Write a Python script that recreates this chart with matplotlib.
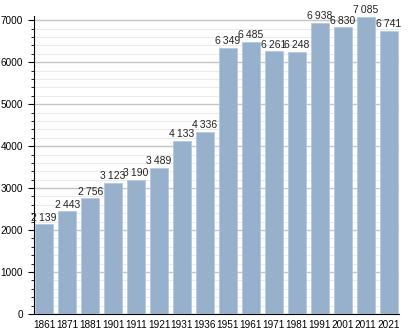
import numpy as np
import matplotlib
matplotlib.use("Agg")
import matplotlib.pyplot as plt
from matplotlib.ticker import MultipleLocator

plt.rcParams["font.family"] = ["Liberation Sans", "DejaVu Sans"]

years = ["1861", "1871", "1881", "1901", "1911", "1921", "1931", "1936",
         "1951", "1961", "1971", "1981", "1991", "2001", "2011", "2021"]
population = [2139, 2443, 2756, 3123, 3190, 3489, 4133, 4336,
              6349, 6485, 6261, 6248, 6938, 6830, 7085, 6741]
labels = ["2\u2009139", "2\u2009443", "2\u2009756", "3\u2009123", "3\u2009190",
          "3\u2009489", "4\u2009133", "4\u2009336", "6\u2009349", "6\u2009485",
          "6\u2009261", "6\u2009248", "6\u2009938", "6\u2009830", "7\u2009085",
          "6\u2009741"]

fig = plt.figure(figsize=(4.08, 3.33), dpi=100)
ax = fig.add_axes([0.083, 0.057, 0.895, 0.895])

x = np.arange(len(years))
ax.bar(x, population, width=0.8, color="#97b1cc", edgecolor="#b5c8dc",
       linewidth=0.6, zorder=3)

for xi, v, s in zip(x, population, labels):
    ax.text(xi, v + 40, s, ha="center", va="bottom", fontsize=7.5,
            color="#222222", zorder=4)

ax.set_xlim(-0.45, len(years) - 0.55)
ax.set_ylim(0, 7100)
ax.set_xticks(x)
ax.set_xticklabels(years, fontsize=7.2)
ax.yaxis.set_major_locator(MultipleLocator(1000))
ax.yaxis.set_minor_locator(MultipleLocator(200))
ax.tick_params(axis="y", labelsize=7.2, length=4, width=0.8, pad=4)
ax.tick_params(axis="y", which="minor", length=2, width=0.6)
ax.tick_params(axis="x", length=0, pad=4.5)

ax.grid(axis="y", which="major", color="#c4c4c4", linewidth=1.0, zorder=0)
ax.grid(axis="y", which="minor", color="#e6e6e6", linewidth=0.6, zorder=0)
ax.set_axisbelow(True)

for side in ("top", "right"):
    ax.spines[side].set_visible(False)
ax.spines["left"].set_linewidth(0.8)
ax.spines["bottom"].set_linewidth(0.8)

fig.savefig("out.png", dpi=100)
